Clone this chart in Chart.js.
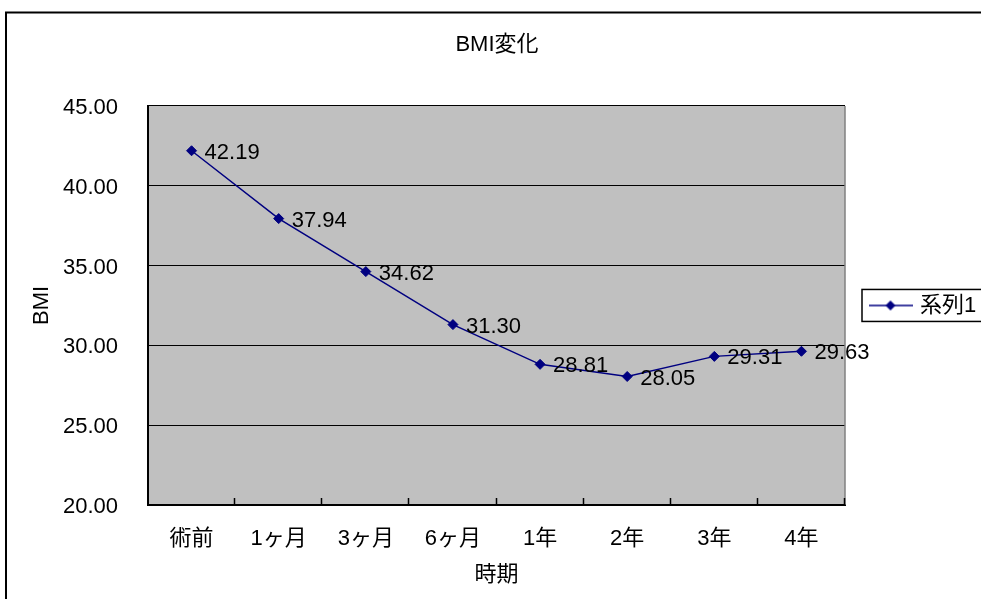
<!DOCTYPE html>
<html>
<head>
<meta charset="utf-8">
<title>BMI変化</title>
<script src="https://cdn.jsdelivr.net/npm/chart.js@4.4.1/dist/chart.umd.min.js"></script>
<style>
  html, body { margin: 0; padding: 0; background: #fff; overflow: hidden; }
  canvas { display: block; }
</style>
</head>
<body>
<canvas id="bmi" width="981" height="599"></canvas>
<script>
var periods = ["術前", "1ヶ月", "3ヶ月", "6ヶ月", "1年", "2年", "3年", "4年"];
var bmiValues = [42.19, 37.94, 34.62, 31.30, 28.81, 28.05, 29.31, 29.63];
var seriesName = "系列1";
var yTicks = [20, 25, 30, 35, 40, 45];

Chart.defaults.font.family = '"Liberation Sans", "Noto Sans CJK JP", sans-serif';
Chart.defaults.font.size = 22;
Chart.defaults.color = "#000";

// line + diamond, like the excel legend key
function legendKey() {
  const c = document.createElement("canvas");
  c.width = 44;
  c.height = 12;
  const g = c.getContext("2d");
  g.strokeStyle = "#000080";
  g.lineWidth = 1.5;
  g.beginPath();
  g.moveTo(0, 6);
  g.lineTo(44, 6);
  g.stroke();
  g.fillStyle = "#000080";
  g.beginPath();
  g.moveTo(22, 1);
  g.lineTo(27, 6);
  g.lineTo(22, 11);
  g.lineTo(17, 6);
  g.closePath();
  g.fill();
  return c;
}

const excelFrame = {
  id: "excelFrame",
  beforeDraw(chart) {
    const { ctx, chartArea: a } = chart;
    ctx.save();
    ctx.fillStyle = "#fff";
    ctx.fillRect(0, 0, chart.width, chart.height);
    ctx.strokeStyle = "#000";
    ctx.lineWidth = 2;
    ctx.strokeRect(6, 12.5, chart.width + 40, chart.height + 40);
    ctx.fillStyle = "#c0c0c0";
    ctx.fillRect(a.left, a.top, a.right - a.left, a.bottom - a.top);
    ctx.restore();
  },
  beforeDatasetsDraw(chart) {
    const { ctx, chartArea: a } = chart;
    const x = chart.scales.x;
    ctx.save();
    ctx.strokeStyle = "#808080";
    ctx.lineWidth = 1.5;
    ctx.beginPath();
    ctx.moveTo(a.right, a.top);
    ctx.lineTo(a.right, a.bottom);
    ctx.stroke();
    ctx.strokeStyle = "#000";
    ctx.lineWidth = 1.5;
    for (let i = 1; i <= periods.length; i++) {
      const px = Math.round(x.getPixelForValue(i - 0.5)) - 0.5;
      ctx.beginPath();
      ctx.moveTo(px, a.bottom);
      ctx.lineTo(px, a.bottom - 7);
      ctx.stroke();
    }
    ctx.restore();
  },
  afterDatasetsDraw(chart) {
    const { ctx } = chart;
    const meta = chart.getDatasetMeta(0);
    ctx.save();
    ctx.font = '22px "Liberation Sans", "Noto Sans CJK JP", sans-serif';
    ctx.fillStyle = "#000";
    ctx.textAlign = "left";
    ctx.textBaseline = "middle";
    meta.data.forEach((pt, i) => {
      ctx.fillText(bmiValues[i].toFixed(2), pt.x + 13, pt.y + 2);
    });
    ctx.restore();
  },
  afterDraw(chart) {
    const hb = chart.legend && chart.legend.legendHitBoxes[0];
    if (!hb) return;
    const { ctx } = chart;
    const cy = hb.top + hb.height / 2;
    ctx.save();
    ctx.strokeStyle = "#000";
    ctx.lineWidth = 1.5;
    ctx.strokeRect(hb.left - 10, cy - 16, 200, 32);
    ctx.restore();
  },
};

const data_bmi = {
  labels: periods,
  datasets: [
    {
      label: seriesName,
      data: bmiValues,
      borderColor: "#000080",
      backgroundColor: "#000080",
      borderWidth: 1.5,
      pointStyle: "rectRot",
      pointRadius: 5,
      pointBorderWidth: 1,
      pointBackgroundColor: "#000080",
      pointBorderColor: "#000080",
      tension: 0,
    },
  ],
};

const config_bmi = {
  type: "line",
  data: data_bmi,
  options: {
    responsive: false,
    animation: false,
    devicePixelRatio: 1,
    layout: {
      padding: { left: 13, right: 0, top: 0, bottom: 0 },
    },
    scales: {
      x: {
        offset: true,
        grid: { display: false },
        border: { display: true, color: "#000", width: 2 },
        ticks: { padding: 13, maxRotation: 0 },
        title: {
          display: true,
          text: "時期",
          padding: { top: 0, bottom: 11 },
        },
        afterFit: (s) => { s.height = 94; },
      },
      y: {
        min: yTicks[0],
        max: yTicks[yTicks.length - 1],
        grid: { color: "#000", lineWidth: 1, drawTicks: false },
        border: { display: true, color: "#000", width: 2 },
        ticks: {
          stepSize: yTicks[1] - yTicks[0],
          padding: 30,
          labelOffset: 2,
          callback: (v) => v.toFixed(2),
        },
        title: {
          display: true,
          text: "BMI",
          padding: { top: 16, bottom: 0 },
        },
        afterFit: (s) => { s.width = 135; },
      },
    },
    plugins: {
      title: {
        display: true,
        text: "BMI変化",
        font: { size: 22, weight: "normal" },
        padding: { top: 32, bottom: 47.5 },
      },
      legend: {
        position: "right",
        fullSize: false,
        maxWidth: 136,
        labels: {
          usePointStyle: true,
          pointStyle: legendKey(),
          pointStyleWidth: 37,
          padding: 27,
          color: "#000",
          font: { size: 22 },
        },
      },
      tooltip: { enabled: false },
    },
  },
  plugins: [excelFrame],
};

const bmi = new Chart(document.getElementById("bmi"), config_bmi);
</script>
</body>
</html>
